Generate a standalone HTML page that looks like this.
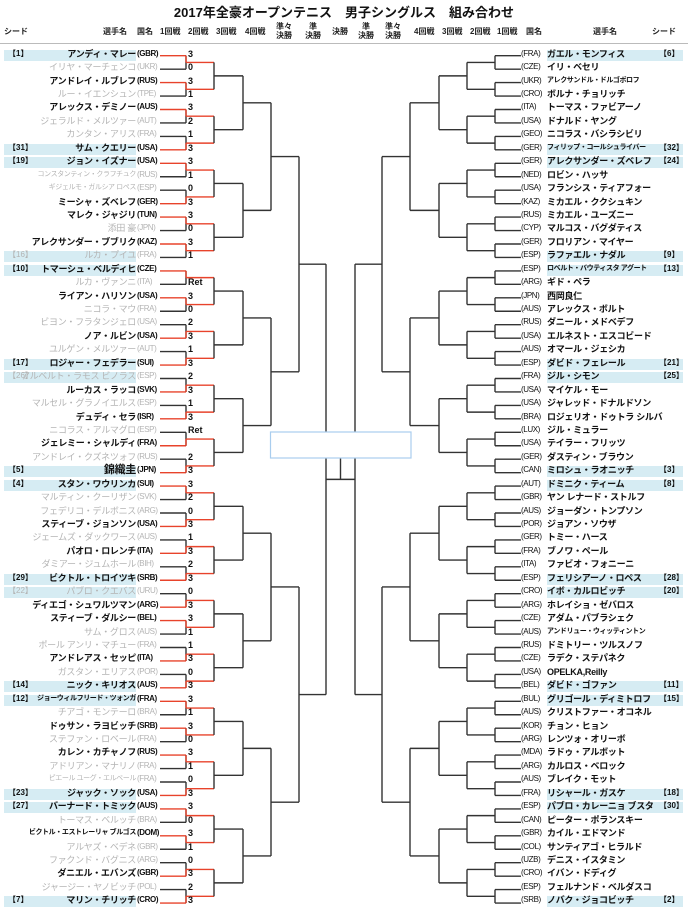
<!DOCTYPE html>
<html><head><meta charset="utf-8">
<style>
*{margin:0;padding:0;box-sizing:border-box}
body{width:688px;height:914px;background:#fff;position:relative;overflow:hidden;font-family:"Liberation Sans","Noto Sans CJK JP",sans-serif;color:#111}
.t{position:absolute;left:0;width:688px;top:2px;text-align:center;font-size:13px;font-weight:bold}
.h{position:absolute;font-size:8px;font-weight:bold;line-height:9px;text-align:center;color:#222}
.sep{position:absolute;left:0;top:43px;width:688px;height:1px;background:#bbb}
.col{position:absolute;top:47.7px;width:688px;left:0}
.r{position:relative;height:13.45px;font-size:9px;line-height:12px}
.r span{position:absolute;top:0;height:12px;white-space:nowrap}
.nm{letter-spacing:-0.3px}
.cc{letter-spacing:-0.4px}
.L .nm{right:552px;text-align:right;font-weight:bold}
.L .cc{left:137px;font-size:8px;font-weight:bold}
.L .sd{left:8px;font-weight:bold;font-size:8px}
.L .sc{left:188px;font-size:9px;font-weight:bold}
.R .cc{left:521px;font-size:8px}
.R .nm{left:547px;font-weight:bold}
.R .sd{left:659px;font-weight:bold;font-size:8px}
.g span{color:#b4b4b4;font-weight:normal!important}
.g .sc{color:#111!important;font-weight:bold!important}
.sm .nm{font-size:7px;letter-spacing:-0.4px}
.hlL::before{content:"";position:absolute;left:4px;width:132px;top:2px;height:11px;background:#d6ecf3}
.hlR::before{content:"";position:absolute;left:547px;width:136px;top:2px;height:11px;background:#d6ecf3}
svg{position:absolute;left:0;top:0}
</style></head><body>
<div class="t">2017年全豪オープンテニス　男子シングルス　組み合わせ</div>
<div class="h" style="left:4px;top:27px">シード</div>
<div class="h" style="left:103px;top:27px">選手名</div>
<div class="h" style="left:137px;top:27px">国名</div>
<div class="h" style="left:160px;top:27px">1回戦</div>
<div class="h" style="left:188px;top:27px">2回戦</div>
<div class="h" style="left:216px;top:27px">3回戦</div>
<div class="h" style="left:245px;top:27px">4回戦</div>
<div class="h" style="left:276px;top:22px">準々<br>決勝</div>
<div class="h" style="left:305px;top:22px">準<br>決勝</div>
<div class="h" style="left:332px;top:27px">決勝</div>
<div class="h" style="left:358px;top:22px">準<br>決勝</div>
<div class="h" style="left:385px;top:22px">準々<br>決勝</div>
<div class="h" style="left:414px;top:27px">4回戦</div>
<div class="h" style="left:442px;top:27px">3回戦</div>
<div class="h" style="left:470px;top:27px">2回戦</div>
<div class="h" style="left:497px;top:27px">1回戦</div>
<div class="h" style="left:526px;top:27px">国名</div>
<div class="h" style="left:593px;top:27px">選手名</div>
<div class="h" style="left:652px;top:27px">シード</div>
<div class="sep"></div>
<svg id="s" width="688" height="914"></svg>
<div class="col L">
<div class="r hlL"><span class="sd">【1】</span><span class="nm">アンディ・マレー</span><span class="cc">(GBR)</span><span class="sc">3</span></div>
<div class="r g"><span class="nm">イリヤ・マーチェンコ</span><span class="cc">(UKR)</span><span class="sc">0</span></div>
<div class="r"><span class="nm">アンドレイ・ルブレフ</span><span class="cc">(RUS)</span><span class="sc">3</span></div>
<div class="r g"><span class="nm">ルー・イエンシュン</span><span class="cc">(TPE)</span><span class="sc">1</span></div>
<div class="r"><span class="nm">アレックス・デミノー</span><span class="cc">(AUS)</span><span class="sc">3</span></div>
<div class="r g"><span class="nm">ジェラルド・メルツァー</span><span class="cc">(AUT)</span><span class="sc">2</span></div>
<div class="r g"><span class="nm">カンタン・アリス</span><span class="cc">(FRA)</span><span class="sc">1</span></div>
<div class="r hlL"><span class="sd">【31】</span><span class="nm">サム・クエリー</span><span class="cc">(USA)</span><span class="sc">3</span></div>
<div class="r hlL"><span class="sd">【19】</span><span class="nm">ジョン・イズナー</span><span class="cc">(USA)</span><span class="sc">3</span></div>
<div class="r g sm"><span class="nm">コンスタンティン・クラフチュク</span><span class="cc">(RUS)</span><span class="sc">1</span></div>
<div class="r g sm"><span class="nm">ギジェルモ・ガルシア ロペス</span><span class="cc">(ESP)</span><span class="sc">0</span></div>
<div class="r"><span class="nm">ミーシャ・ズベレフ</span><span class="cc">(GER)</span><span class="sc">3</span></div>
<div class="r"><span class="nm">マレク・ジャジリ</span><span class="cc">(TUN)</span><span class="sc">3</span></div>
<div class="r g"><span class="nm">添田 豪</span><span class="cc">(JPN)</span><span class="sc">0</span></div>
<div class="r"><span class="nm">アレクサンダー・ブブリク</span><span class="cc">(KAZ)</span><span class="sc">3</span></div>
<div class="r g hlL"><span class="sd">【16】</span><span class="nm">ルカ・プイユ</span><span class="cc">(FRA)</span><span class="sc">1</span></div>
<div class="r hlL"><span class="sd">【10】</span><span class="nm">トマーシュ・ベルディヒ</span><span class="cc">(CZE)</span></div>
<div class="r g"><span class="nm">ルカ・ヴァンニ</span><span class="cc">(ITA)</span><span class="sc">Ret</span></div>
<div class="r"><span class="nm">ライアン・ハリソン</span><span class="cc">(USA)</span><span class="sc">3</span></div>
<div class="r g"><span class="nm">ニコラ・マウ</span><span class="cc">(FRA)</span><span class="sc">0</span></div>
<div class="r g"><span class="nm">ビヨン・フラタンジェロ</span><span class="cc">(USA)</span><span class="sc">2</span></div>
<div class="r"><span class="nm">ノア・ルビン</span><span class="cc">(USA)</span><span class="sc">3</span></div>
<div class="r g"><span class="nm">ユルゲン・メルツァー</span><span class="cc">(AUT)</span><span class="sc">1</span></div>
<div class="r hlL"><span class="sd">【17】</span><span class="nm">ロジャー・フェデラー</span><span class="cc">(SUI)</span><span class="sc">3</span></div>
<div class="r g hlL"><span class="sd">【26】</span><span class="nm">アルベルト・ラモス ビノラス</span><span class="cc">(ESP)</span><span class="sc">2</span></div>
<div class="r"><span class="nm">ルーカス・ラッコ</span><span class="cc">(SVK)</span><span class="sc">3</span></div>
<div class="r g"><span class="nm">マルセル・グラノイエルス</span><span class="cc">(ESP)</span><span class="sc">1</span></div>
<div class="r"><span class="nm">デュディ・セラ</span><span class="cc">(ISR)</span><span class="sc">3</span></div>
<div class="r g"><span class="nm">ニコラス・アルマグロ</span><span class="cc">(ESP)</span><span class="sc">Ret</span></div>
<div class="r"><span class="nm">ジェレミー・シャルディ</span><span class="cc">(FRA)</span></div>
<div class="r g"><span class="nm">アンドレイ・クズネツォフ</span><span class="cc">(RUS)</span><span class="sc">2</span></div>
<div class="r hlL"><span class="sd">【5】</span><span class="nm" style="font-size:11px">錦織圭</span><span class="cc">(JPN)</span><span class="sc">3</span></div>
<div class="r hlL"><span class="sd">【4】</span><span class="nm">スタン・ワウリンカ</span><span class="cc">(SUI)</span><span class="sc">3</span></div>
<div class="r g"><span class="nm">マルティン・クーリザン</span><span class="cc">(SVK)</span><span class="sc">2</span></div>
<div class="r g"><span class="nm">フェデリコ・デルボニス</span><span class="cc">(ARG)</span><span class="sc">0</span></div>
<div class="r"><span class="nm">スティーブ・ジョンソン</span><span class="cc">(USA)</span><span class="sc">3</span></div>
<div class="r g"><span class="nm">ジェームズ・ダックワース</span><span class="cc">(AUS)</span><span class="sc">1</span></div>
<div class="r"><span class="nm">パオロ・ロレンチ</span><span class="cc">(ITA)</span><span class="sc">3</span></div>
<div class="r g"><span class="nm">ダミアー・ジュムホール</span><span class="cc">(BIH)</span><span class="sc">2</span></div>
<div class="r hlL"><span class="sd">【29】</span><span class="nm">ビクトル・トロイツキ</span><span class="cc">(SRB)</span><span class="sc">3</span></div>
<div class="r g hlL"><span class="sd">【22】</span><span class="nm">パブロ・クエバス</span><span class="cc">(URU)</span><span class="sc">0</span></div>
<div class="r"><span class="nm">ディエゴ・シュワルツマン</span><span class="cc">(ARG)</span><span class="sc">3</span></div>
<div class="r"><span class="nm">スティーブ・ダルシー</span><span class="cc">(BEL)</span><span class="sc">3</span></div>
<div class="r g"><span class="nm">サム・グロス</span><span class="cc">(AUS)</span><span class="sc">1</span></div>
<div class="r g"><span class="nm">ポール アンリ・マチュー</span><span class="cc">(FRA)</span><span class="sc">1</span></div>
<div class="r"><span class="nm">アンドレアス・セッピ</span><span class="cc">(ITA)</span><span class="sc">3</span></div>
<div class="r g"><span class="nm">ガスタン・エリアス</span><span class="cc">(POR)</span><span class="sc">0</span></div>
<div class="r hlL"><span class="sd">【14】</span><span class="nm">ニック・キリオス</span><span class="cc">(AUS)</span><span class="sc">3</span></div>
<div class="r hlL sm"><span class="sd">【12】</span><span class="nm">ジョーウィルフリード・ツォンガ</span><span class="cc">(FRA)</span><span class="sc">3</span></div>
<div class="r g"><span class="nm">チアゴ・モンテーロ</span><span class="cc">(BRA)</span><span class="sc">1</span></div>
<div class="r"><span class="nm">ドゥサン・ラヨビッチ</span><span class="cc">(SRB)</span><span class="sc">3</span></div>
<div class="r g"><span class="nm">ステファン・ロベール</span><span class="cc">(FRA)</span><span class="sc">0</span></div>
<div class="r"><span class="nm">カレン・カチャノフ</span><span class="cc">(RUS)</span><span class="sc">3</span></div>
<div class="r g"><span class="nm">アドリアン・マナリノ</span><span class="cc">(FRA)</span><span class="sc">1</span></div>
<div class="r g sm"><span class="nm">ピエール ユーグ・エルベール</span><span class="cc">(FRA)</span><span class="sc">0</span></div>
<div class="r hlL"><span class="sd">【23】</span><span class="nm">ジャック・ソック</span><span class="cc">(USA)</span><span class="sc">3</span></div>
<div class="r hlL"><span class="sd">【27】</span><span class="nm">バーナード・トミック</span><span class="cc">(AUS)</span><span class="sc">3</span></div>
<div class="r g"><span class="nm">トーマス・ベルッチ</span><span class="cc">(BRA)</span><span class="sc">0</span></div>
<div class="r sm"><span class="nm">ビクトル・エストレーリャ ブルゴス</span><span class="cc">(DOM)</span><span class="sc">3</span></div>
<div class="r g"><span class="nm">アルヤズ・ベデネ</span><span class="cc">(GBR)</span><span class="sc">1</span></div>
<div class="r g"><span class="nm">ファクンド・バグニス</span><span class="cc">(ARG)</span><span class="sc">0</span></div>
<div class="r"><span class="nm">ダニエル・エバンズ</span><span class="cc">(GBR)</span><span class="sc">3</span></div>
<div class="r g"><span class="nm">ジャージー・ヤノビッチ</span><span class="cc">(POL)</span><span class="sc">2</span></div>
<div class="r hlL"><span class="sd">【7】</span><span class="nm">マリン・チリッチ</span><span class="cc">(CRO)</span><span class="sc">3</span></div>
</div>
<div class="col R">
<div class="r hlR"><span class="cc">(FRA)</span><span class="nm">ガエル・モンフィス</span><span class="sd">【6】</span></div>
<div class="r"><span class="cc">(CZE)</span><span class="nm">イリ・ベセリ</span></div>
<div class="r sm"><span class="cc">(UKR)</span><span class="nm">アレクサンドル・ドルゴポロフ</span></div>
<div class="r"><span class="cc">(CRO)</span><span class="nm">ボルナ・チョリッチ</span></div>
<div class="r"><span class="cc">(ITA)</span><span class="nm">トーマス・ファビアーノ</span></div>
<div class="r"><span class="cc">(USA)</span><span class="nm">ドナルド・ヤング</span></div>
<div class="r"><span class="cc">(GEO)</span><span class="nm">ニコラス・バシラシビリ</span></div>
<div class="r hlR sm"><span class="cc">(GER)</span><span class="nm">フィリップ・コールシュライバー</span><span class="sd">【32】</span></div>
<div class="r hlR"><span class="cc">(GER)</span><span class="nm">アレクサンダー・ズベレフ</span><span class="sd">【24】</span></div>
<div class="r"><span class="cc">(NED)</span><span class="nm">ロビン・ハッサ</span></div>
<div class="r"><span class="cc">(USA)</span><span class="nm">フランシス・ティアフォー</span></div>
<div class="r"><span class="cc">(KAZ)</span><span class="nm">ミカエル・ククシュキン</span></div>
<div class="r"><span class="cc">(RUS)</span><span class="nm">ミカエル・ユーズニー</span></div>
<div class="r"><span class="cc">(CYP)</span><span class="nm">マルコス・バグダティス</span></div>
<div class="r"><span class="cc">(GER)</span><span class="nm">フロリアン・マイヤー</span></div>
<div class="r hlR"><span class="cc">(ESP)</span><span class="nm">ラファエル・ナダル</span><span class="sd">【9】</span></div>
<div class="r hlR sm"><span class="cc">(ESP)</span><span class="nm">ロベルト・バウティスタ アグート</span><span class="sd">【13】</span></div>
<div class="r"><span class="cc">(ARG)</span><span class="nm">ギド・ペラ</span></div>
<div class="r"><span class="cc">(JPN)</span><span class="nm">西岡良仁</span></div>
<div class="r"><span class="cc">(AUS)</span><span class="nm">アレックス・ボルト</span></div>
<div class="r"><span class="cc">(RUS)</span><span class="nm">ダニール・メドベデフ</span></div>
<div class="r"><span class="cc">(USA)</span><span class="nm">エルネスト・エスコビード</span></div>
<div class="r"><span class="cc">(AUS)</span><span class="nm">オマール・ジェシカ</span></div>
<div class="r hlR"><span class="cc">(ESP)</span><span class="nm">ダビド・フェレール</span><span class="sd">【21】</span></div>
<div class="r hlR"><span class="cc">(FRA)</span><span class="nm">ジル・シモン</span><span class="sd">【25】</span></div>
<div class="r"><span class="cc">(USA)</span><span class="nm">マイケル・モー</span></div>
<div class="r"><span class="cc">(USA)</span><span class="nm">ジャレッド・ドナルドソン</span></div>
<div class="r"><span class="cc">(BRA)</span><span class="nm">ロジェリオ・ドゥトラ シルバ</span></div>
<div class="r"><span class="cc">(LUX)</span><span class="nm">ジル・ミュラー</span></div>
<div class="r"><span class="cc">(USA)</span><span class="nm">テイラー・フリッツ</span></div>
<div class="r"><span class="cc">(GER)</span><span class="nm">ダスティン・ブラウン</span></div>
<div class="r hlR"><span class="cc">(CAN)</span><span class="nm">ミロシュ・ラオニッチ</span><span class="sd">【3】</span></div>
<div class="r hlR"><span class="cc">(AUT)</span><span class="nm">ドミニク・ティーム</span><span class="sd">【8】</span></div>
<div class="r"><span class="cc">(GBR)</span><span class="nm">ヤン レナード・ストルフ</span></div>
<div class="r"><span class="cc">(AUS)</span><span class="nm">ジョーダン・トンプソン</span></div>
<div class="r"><span class="cc">(POR)</span><span class="nm">ジョアン・ソウザ</span></div>
<div class="r"><span class="cc">(GER)</span><span class="nm">トミー・ハース</span></div>
<div class="r"><span class="cc">(FRA)</span><span class="nm">ブノワ・ペール</span></div>
<div class="r"><span class="cc">(ITA)</span><span class="nm">ファビオ・フォニーニ</span></div>
<div class="r hlR"><span class="cc">(ESP)</span><span class="nm">フェリシアーノ・ロペス</span><span class="sd">【28】</span></div>
<div class="r hlR"><span class="cc">(CRO)</span><span class="nm">イボ・カルロビッチ</span><span class="sd">【20】</span></div>
<div class="r"><span class="cc">(ARG)</span><span class="nm">ホレイショ・ゼバロス</span></div>
<div class="r"><span class="cc">(CZE)</span><span class="nm">アダム・パブラシェク</span></div>
<div class="r sm"><span class="cc">(AUS)</span><span class="nm">アンドリュー・ウィッティントン</span></div>
<div class="r"><span class="cc">(RUS)</span><span class="nm">ドミトリー・ツルスノフ</span></div>
<div class="r"><span class="cc">(CZE)</span><span class="nm">ラデク・ステパネク</span></div>
<div class="r"><span class="cc">(USA)</span><span class="nm">OPELKA,Reilly</span></div>
<div class="r hlR"><span class="cc">(BEL)</span><span class="nm">ダビド・ゴファン</span><span class="sd">【11】</span></div>
<div class="r hlR"><span class="cc">(BUL)</span><span class="nm">グリゴール・ディミトロフ</span><span class="sd">【15】</span></div>
<div class="r"><span class="cc">(AUS)</span><span class="nm">クリストファー・オコネル</span></div>
<div class="r"><span class="cc">(KOR)</span><span class="nm">チョン・ヒョン</span></div>
<div class="r"><span class="cc">(ARG)</span><span class="nm">レンツォ・オリーボ</span></div>
<div class="r"><span class="cc">(MDA)</span><span class="nm">ラドゥ・アルボット</span></div>
<div class="r"><span class="cc">(ARG)</span><span class="nm">カルロス・ベロック</span></div>
<div class="r"><span class="cc">(AUS)</span><span class="nm">ブレイク・モット</span></div>
<div class="r hlR"><span class="cc">(FRA)</span><span class="nm">リシャール・ガスケ</span><span class="sd">【18】</span></div>
<div class="r hlR"><span class="cc">(ESP)</span><span class="nm">パブロ・カレーニョ ブスタ</span><span class="sd">【30】</span></div>
<div class="r"><span class="cc">(CAN)</span><span class="nm">ピーター・ポランスキー</span></div>
<div class="r"><span class="cc">(GBR)</span><span class="nm">カイル・エドマンド</span></div>
<div class="r"><span class="cc">(COL)</span><span class="nm">サンティアゴ・ヒラルド</span></div>
<div class="r"><span class="cc">(UZB)</span><span class="nm">デニス・イスタミン</span></div>
<div class="r"><span class="cc">(CRO)</span><span class="nm">イバン・ドディグ</span></div>
<div class="r"><span class="cc">(ESP)</span><span class="nm">フェルナンド・ベルダスコ</span></div>
<div class="r hlR"><span class="cc">(SRB)</span><span class="nm">ノバク・ジョコビッチ</span><span class="sd">【2】</span></div>
</div>
<script>
(function(){
var s=document.getElementById('s'),o='';
var Y=function(i){return 55.7+i*13.45};
var K='#333',RD='#e8432b';
function ln(x1,y1,x2,y2,c){o+='<line x1="'+x1+'" y1="'+y1+'" x2="'+x2+'" y2="'+y2+'" stroke="'+c+'" stroke-width="1.4"/>';}
var W=[0,2,4,7,8,11,12,14,16,18,21,23,25,27,29,31,32,35,37,39,41,42,45,47,48,50,52,55,56,58,61,63];
function side(X,red){
  var c=[];for(var i=0;i<64;i++)c.push(Y(i));
  for(var i=0;i<64;i++){var w=red&&W.indexOf(i)>=0;ln(X[0]===186?160:521,c[i],X[0],c[i],w?RD:K);}
  for(var l=0;l<5;l++){
    var n=[];
    for(var k=0;k<c.length;k+=2){
      var a=c[k],b=c[k+1],m=(a+b)/2;
      ln(X[l],a,X[l],b,K);
      if(l==0&&red){var wi=W[k/2];var wy=(wi==k)?a:b;ln(X[0],wy,X[0],m,RD);ln(X[0],m,X[1],m,RD);}
      else ln(X[l],m,X[l+1],m,K);
      n.push(m);
    }
    c=n;
  }
  ln(X[5],c[0],X[5],c[1],K);
}
side([186,214,243,271,299,326],true);
side([495,467,439,410,382,355],false);
var fy=Y(31.5);
ln(326,fy,355,fy,K);
ln(340.5,458,340.5,fy,K);
o+='<rect x="270.5" y="432" width="140.5" height="26" fill="#fff" stroke="#a9cdee" stroke-width="1.2"/>';
s.innerHTML=o;
})();
</script>
</body></html>
